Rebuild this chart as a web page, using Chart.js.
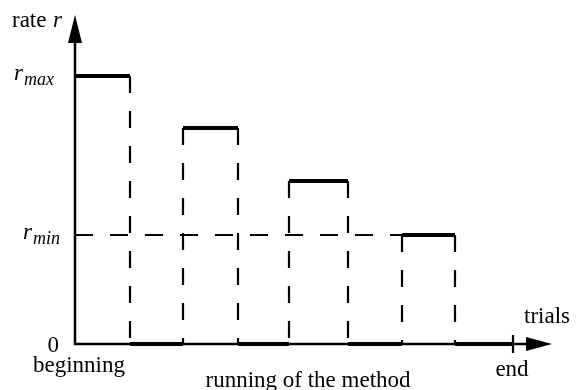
<!DOCTYPE html>
<html>
<head>
<meta charset="utf-8">
<script src="https://cdn.jsdelivr.net/npm/chart.js@4"></script>
<style>
  html, body { margin: 0; padding: 0; background: #fff; }
  #wrap { width: 581px; height: 390px; }
</style>
</head>
<body>
<div id="wrap"><canvas id="plot"></canvas></div>
<script>
// trial boundaries (phase starts/ends) along the x axis
const bounds = [0, 55, 108, 163, 214, 273, 327, 380, 438];
// rate in each phase between two boundaries
const rates = [268, 0, 216, 0, 163, 0, 109, 0];
const rMax = 268;
const rMin = 109;
const xMax = 477;
const yMax = 329;
const xLabels = ["beginning", "running of the method", "end"];

let datasets = [];

// dashed verticals at each inner boundary
for (let i = 1; i < bounds.length - 1; i++) {
  let top = Math.max(rates[i - 1], rates[i]);
  datasets.push({
    data: [{ x: bounds[i], y: top }, { x: bounds[i], y: 0 }],
    borderColor: "#000",
    borderWidth: 2.2,
    borderDash: [17, 18],
    pointRadius: 0,
    showLine: true,
    clip: false,
  });
}

// dashed r_min line
datasets.push({
  data: [{ x: 0, y: rMin }, { x: bounds[6], y: rMin }],
  borderColor: "#000",
  borderWidth: 2.2,
  borderDash: [18, 17],
  pointRadius: 0,
  showLine: true,
  clip: false,
});

// thick rate segments
for (let i = 0; i < rates.length; i++) {
  datasets.push({
    data: [{ x: bounds[i], y: rates[i] }, { x: bounds[i + 1], y: rates[i] }],
    borderColor: "#000",
    borderWidth: 4,
    pointRadius: 0,
    showLine: true,
    clip: false,
  });
}

let subLabel = (ctx, x, y, main, sub) => {
  ctx.font = "italic 23px 'Liberation Serif'";
  ctx.textAlign = "left";
  ctx.fillText(main, x, y + 4);
  let w = ctx.measureText(main).width;
  ctx.font = "italic 18px 'Liberation Serif'";
  ctx.fillText(sub, x + w + 1, y + 9);
};

let axesPlugin = {
  id: "axes",
  afterDraw(chart) {
    const { ctx, scales } = chart;
    const x = scales.x, y = scales.y;
    const x0 = x.getPixelForValue(0), y0 = y.getPixelForValue(0);
    const xTip = x.getPixelForValue(xMax), yTip = y.getPixelForValue(yMax);
    ctx.save();
    ctx.strokeStyle = "#000";
    ctx.fillStyle = "#000";
    ctx.lineWidth = 2.5;
    ctx.beginPath();
    ctx.moveTo(x0, y0 + 1);
    ctx.lineTo(x0, yTip + 20);
    ctx.moveTo(x0 - 1, y0);
    ctx.lineTo(xTip - 20, y0);
    ctx.stroke();
    // arrow heads
    ctx.beginPath();
    ctx.moveTo(x0, yTip);
    ctx.lineTo(x0 - 7, yTip + 28);
    ctx.lineTo(x0 + 7, yTip + 28);
    ctx.closePath();
    ctx.fill();
    ctx.beginPath();
    ctx.moveTo(xTip, y0);
    ctx.lineTo(xTip - 26, y0 - 7);
    ctx.lineTo(xTip - 26, y0 + 7);
    ctx.closePath();
    ctx.fill();
    // end tick
    let xe = x.getPixelForValue(bounds[bounds.length - 1]);
    ctx.lineWidth = 2.2;
    ctx.beginPath();
    ctx.moveTo(xe, y0 - 9);
    ctx.lineTo(xe, y0 + 9);
    ctx.stroke();

    // texts
    ctx.textBaseline = "alphabetic";
    ctx.font = "23px 'Liberation Serif'";
    ctx.textAlign = "left";
    ctx.fillText("rate", 12, 27);
    ctx.font = "italic 23px 'Liberation Serif'";
    ctx.fillText("r", 53, 27);

    subLabel(ctx, 14, y.getPixelForValue(rMax), "r", "max");
    subLabel(ctx, 23, y.getPixelForValue(rMin), "r", "min");

    ctx.font = "23px 'Liberation Serif'";
    ctx.textAlign = "right";
    ctx.fillText("0", 59, y0 + 8);

    ctx.textAlign = "center";
    ctx.fillText(xLabels[0], x0 + 4, y0 + 28);
    ctx.fillText(xLabels[1], 308, y0 + 43);
    ctx.fillText(xLabels[2], xe - 1, y0 + 32);
    ctx.textAlign = "left";
    ctx.fillText("trials", 524, y0 - 21);
    ctx.restore();
  },
};

let config = {
  type: "scatter",
  data: { datasets: datasets },
  options: {
    responsive: true,
    maintainAspectRatio: false,
    animation: false,
    events: [],
    layout: { padding: { left: 75, right: 29, top: 15, bottom: 46 } },
    plugins: { legend: { display: false }, tooltip: { enabled: false } },
    scales: {
      x: { type: "linear", min: 0, max: xMax, display: false },
      y: { type: "linear", min: 0, max: yMax, display: false },
    },
  },
  plugins: [axesPlugin],
};

let chart1 = new Chart(document.getElementById("plot"), config);
</script>
</body>
</html>
